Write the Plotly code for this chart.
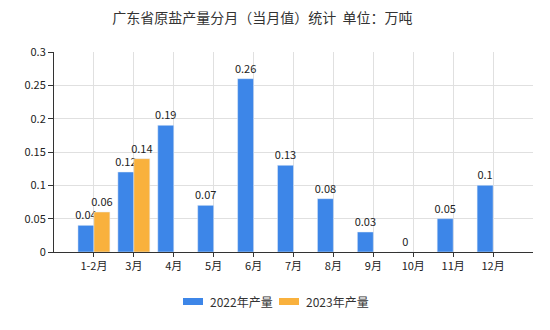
import plotly.graph_objects as go

categories = ["1-2月", "3月", "4月", "5月", "6月", "7月", "8月", "9月", "10月", "11月", "12月"]
values_2022 = [0.04, 0.12, 0.19, 0.07, 0.26, 0.13, 0.08, 0.03, 0, 0.05, 0.1]
values_2023 = [0.06, 0.14, None, None, None, None, None, None, None, None, None]
series_names = ["2022年产量", "2023年产量"]
y_ticks = [0, 0.05, 0.1, 0.15, 0.2, 0.25, 0.3]
y_tick_labels = ["0", "0.05", "0.1", "0.15", "0.2", "0.25", "0.3"]

FONT = "Noto Sans CJK SC, DejaVu Sans, sans-serif"
BLUE = "#3D86E8"
ORANGE = "#F9B13D"
colors = [BLUE, ORANGE]

def fmt(v):
    if v is None:
        return ""
    return ("%g" % v)

fig = go.Figure()
for name, vals, col in zip(series_names, [values_2022, values_2023], colors):
    fig.add_trace(go.Bar(
        x=categories, y=vals, name=name, marker_color=col,
        text=[fmt(v) for v in vals], textposition="outside", cliponaxis=False,
        textfont=dict(size=11, color="#222", family=FONT),
    ))

# manual legend (paper coordinates)
W, H = 550, 330
L, R, T, B = 54, 17, 52, 78
pw, ph = W - L - R, H - T - B
def px(x):
    return (x - L) / pw
def py(y):
    return (H - B - y) / ph

legend_items = [(183, 203, 208), (279, 299, 304)]
shapes = []
annotations = []
for (x0, x1, tx), name, col in zip(legend_items, series_names, colors):
    shapes.append(dict(type="rect", xref="paper", yref="paper",
                       x0=px(x0), x1=px(x1), y0=py(305), y1=py(298),
                       fillcolor=col, line=dict(width=0)))
    annotations.append(dict(text=name, xref="paper", yref="paper", x=px(tx), y=py(301.5),
                            xanchor="left", yanchor="middle", showarrow=False,
                            font=dict(size=12, color="#333", family=FONT)))

fig.update_layout(
    width=W, height=H,
    margin=dict(l=L, r=R, t=T, b=B),
    paper_bgcolor="white", plot_bgcolor="white",
    barmode="group", bargap=0.2, bargroupgap=0,
    font=dict(family=FONT, size=11, color="#222"),
    uniformtext=dict(minsize=11, mode="show"),
    title=dict(text="广东省原盐产量分月（当月值）统计  单位：万吨", x=0.477, xanchor="center",
               y=0.945, yanchor="middle", font=dict(size=14, color="#333", family=FONT)),
    showlegend=False,
    shapes=shapes,
    annotations=annotations,
)
fig.update_xaxes(
    type="category", range=[-1, 11], showline=True, linecolor="#333", linewidth=1,
    ticks="outside", ticklen=4, tickcolor="#333", showgrid=True, gridcolor="#e0e0e0",
    tickfont=dict(size=11, family=FONT, color="#222"), mirror=False,
)
fig.update_yaxes(
    range=[0, 0.3], tickvals=y_ticks, ticktext=y_tick_labels, showline=True,
    linecolor="#333", linewidth=1, ticks="outside", ticklen=5, tickcolor="#333",
    showgrid=True, gridcolor="#e0e0e0", zeroline=False,
    tickfont=dict(size=11, family=FONT, color="#222"),
)

fig.write_html("out.html")
